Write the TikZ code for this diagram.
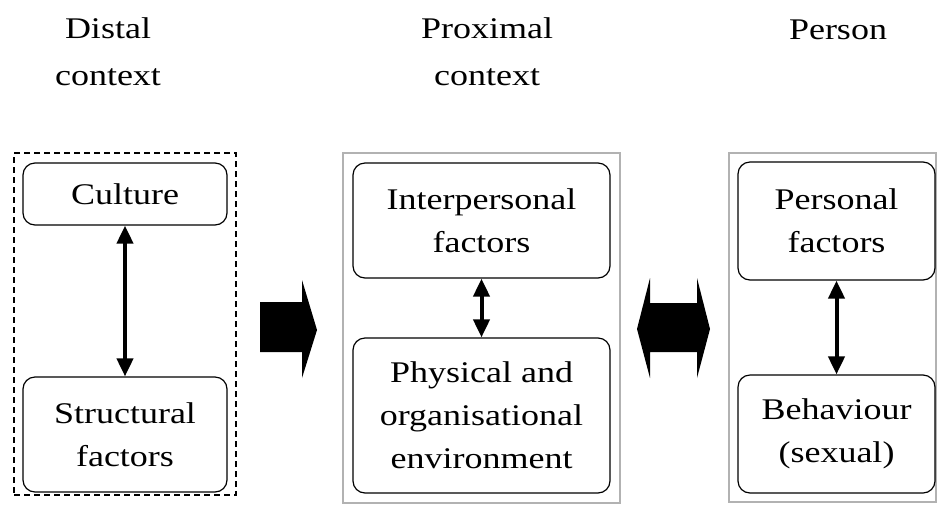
\documentclass[tikz,border=0pt]{standalone}
\usepackage{fontspec}
\setmainfont[FakeStretch=1.2]{Liberation Serif}
\usepackage{tikz}
\usetikzlibrary{arrows.meta, positioning}

\begin{document}
\begin{tikzpicture}[
    x=0.5pt, y=-0.5pt,
    box/.style={rectangle, draw, rounded corners=6pt, line width=0.6pt, align=center, inner sep=0pt},
    frame/.style={rectangle, draw=gray!60, line width=0.6pt, inner sep=0pt},
    title/.style={align=center, font=\fontsize{15}{23.5}\selectfont},
    arrow/.style={{Triangle[length=9pt,width=8pt]}-{Triangle[length=9pt,width=8pt]}, line width=2pt},
    font=\fontsize{15}{21.5}\selectfont,
]
\useasboundingbox (0,0) rectangle (937,505);

% titles
\node[title] (tdistal) at (108,52) {Distal\\context};
\node[title] (tprox) at (487,52) {Proximal\\context};
\node[title] (tperson) at (838,30) {Person};

% containers
\node[frame, draw=black, densely dashed, minimum width=111pt, minimum height=171pt] (distal) at (125,324) {};
\node[frame, minimum width=138.5pt, minimum height=175pt] (proximal) at (481.5,328) {};
\node[frame, minimum width=103.5pt, minimum height=174.5pt] (person) at (832.5,327.5) {};

% boxes
\node[box, minimum width=102pt, minimum height=31pt] (culture) at (125,194) {Culture};
\node[box, minimum width=102pt, minimum height=57.5pt] (struct) at (125,434.5) {Structural\\factors};
\node[box, minimum width=128.5pt, minimum height=57.5pt] (inter) at (481.5,220.5) {Interpersonal\\factors};
\node[box, minimum width=128.5pt, minimum height=77.5pt] (phys) at (481.5,415.5) {Physical and\\organisational\\environment};
\node[box, minimum width=98.5pt, minimum height=59pt] (pers) at (836.5,221) {Personal\\factors};
\node[box, minimum width=98.5pt, minimum height=59pt] (behav) at (836.5,434) {Behaviour\\(sexual)};

\draw[arrow] (culture) -- (struct);
\draw[arrow] (inter) -- (phys);
\draw[arrow] (pers) -- (behav);

% block arrows
\fill (260,302) -- (302,302) -- (302,280) -- (317,330) -- (302,378) -- (302,352) -- (260,352) -- cycle;
\fill (637,329) -- (650,278) -- (650,303) -- (697,303) -- (697,278) -- (710,329)
      -- (697,378) -- (697,352) -- (650,352) -- (650,378) -- cycle;
\end{tikzpicture}
\end{document}
